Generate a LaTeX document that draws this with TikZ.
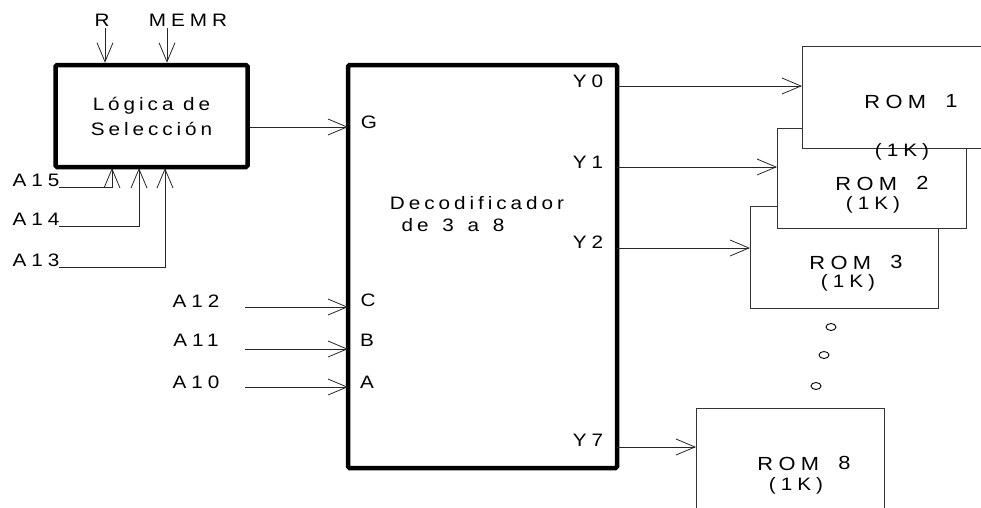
\documentclass[tikz,border=0pt]{standalone}
\usepackage{fontspec}
\newfontfamily\arialsp{Liberation Sans}[FakeStretch=1.15,LetterSpace=22]
\newfontfamily\arialcap{Liberation Sans}[FakeStretch=1.15,LetterSpace=28]
\usetikzlibrary{arrows.meta}
\tikzset{
  lbl/.style={font=\arialcap\fontsize{18}{21}\selectfont, inner sep=0pt},
  txt/.style={font=\arialsp\fontsize{18}{21}\selectfont, inner sep=0pt},
  romlbl/.style={font=\arialcap\fontsize{19}{22}\selectfont, inner sep=0pt},
  sig/.style={draw=black!85, line width=0.8pt, -{Straight Barb[length=19pt,width=16pt,line width=0.8pt]}},
  blk/.style={draw, line width=4.5pt, rounded corners=1.5pt, fill=white, inner sep=0pt},
  rombox/.style={draw=black!80, line width=0.9pt, fill=white, inner sep=0pt, anchor=north west}
}
\newcommand\romname[1]{ROM\ \hspace{8pt}\raisebox{1pt}{#1}}

\begin{document}
\begin{tikzpicture}[x=1pt,y=-1pt]
  \clip (0,0) rectangle (981,507);
  % selection logic
  \node[blk, minimum width=192pt, minimum height=102pt, align=center, font=\arialsp\fontsize{18}{25}\selectfont] (logic) at (151.5,116) {Lógica de\\Selección};
  \node[lbl] (r) at (102,20) {R}; \node[lbl] (memr) at (188,20) {MEMR};
  \coordinate (rtop) at (105,28); \coordinate (mtop) at (167,28);
  \draw[sig] (rtop) -- (rtop |- logic.north);
  \draw[sig] (mtop) -- (mtop |- logic.north);
  \node[lbl] (a15) at (36,180) {A15}; \node[lbl] (a14) at (36,219) {A14}; \node[lbl] (a13) at (36,260) {A13};
  \coordinate (a15s) at (59,187); \coordinate (t15) at (112,168);
  \coordinate (a14s) at (59,226); \coordinate (t14) at (139,168);
  \coordinate (a13s) at (59,267); \coordinate (t13) at (165,168);
  \draw[sig] (a15s) -| (t15); \draw[sig] (a14s) -| (t14); \draw[sig] (a13s) -| (t13);

  % decoder
  \node[blk, minimum width=269pt, minimum height=403pt] (dec) at (482.5,266.5) {};
  \node[txt] (dtxt) at (477,203) {Decodificador};
  \node[txt] (dtxt2) at (453,225) {de\hspace{4pt} 3\hspace{4pt} a\hspace{4pt} 8};
  \node[lbl] (gl) at (369,122) {G}; \node[lbl] (cl) at (368,300) {C};
  \node[lbl] (bl) at (367,340) {B}; \node[lbl] (al) at (367,382) {A};
  \coordinate (pG) at (348,127); \coordinate (pC) at (348,307);
  \coordinate (pB) at (348,349); \coordinate (pA) at (348,387);
  \draw[sig] (logic.east |- pG) -- (pG);
  \node[lbl] (a12) at (196,301) {A12}; \node[lbl] (a11) at (196,340) {A11}; \node[lbl] (a10) at (196,382) {A10};
  \coordinate (a12s) at (245,307); \coordinate (a11s) at (245,349); \coordinate (a10s) at (245,387);
  \draw[sig] (a12s) -- (pC); \draw[sig] (a11s) -- (pB); \draw[sig] (a10s) -- (pA);
  \node[lbl] (y0l) at (588,81) {Y0}; \node[lbl] (y1l) at (588,162) {Y1};
  \node[lbl] (y2l) at (588,242) {Y2}; \node[lbl] (y7l) at (588,440) {Y7};

  % memories
  \node[rombox, minimum width=188pt, minimum height=120pt] (rom8) at (696,408) {};
  \node[rombox, minimum width=188pt, minimum height=102pt] (rom3) at (750,206) {};
  \node[rombox, minimum width=189pt, minimum height=100pt] (rom2) at (777,128) {};
  \node[rombox, minimum width=220pt, minimum height=102pt] (rom1) at (802,46) {};
  \node[romlbl] (r1t) at (911,102) {\romname{1}}; \node[lbl] (r1k) at (902,152) {(1K)};
  \node[romlbl] (r2t) at (882,183) {\romname{2}}; \node[lbl] (r2k) at (873,205) {(1K)};
  \node[romlbl] (r3t) at (856,262) {\romname{3}}; \node[lbl] (r3k) at (848,283) {(1K)};
  \node[romlbl] (r8t) at (804,463) {\romname{8}}; \node[lbl] (r8k) at (796,486) {(1K)};
  \coordinate (y0o) at (617,86); \coordinate (y1o) at (617,167);
  \coordinate (y2o) at (617,248); \coordinate (y7o) at (617,447);
  \draw[sig] (y0o) -- (y0o -| rom1.west); \draw[sig] (y1o) -- (y1o -| rom2.west);
  \draw[sig] (y2o) -- (y2o -| rom3.west); \draw[sig] (y7o) -- (y7o -| rom8.west);
  \foreach \dx/\dy in {831/327,824/355,816/386} \draw[line width=0.9pt] (\dx,\dy) ellipse (5pt and 3.5pt);
\end{tikzpicture}
\end{document}
